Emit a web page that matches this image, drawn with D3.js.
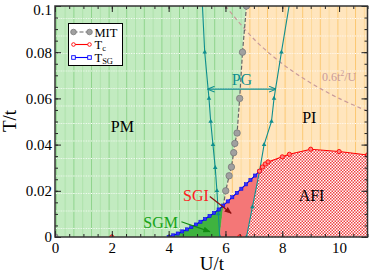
<!DOCTYPE html>
<html>
<head>
<meta charset="utf-8">
<script src="https://cdn.jsdelivr.net/npm/d3@7"></script>
<style>
body { margin: 0; background: #fff; }
svg text { font-family: "Liberation Serif", "Times New Roman", serif; }
</style>
</head>
<body>
<div id="chart"></div>
<script>
// Phase diagram, values (U/t , T/t)
var mitU = [6.74, 6.60, 6.50, 6.41, 6.33, 6.29, 6.21, 6.13, 6.01];
var mitT = [0.1, 0.08, 0.06, 0.045, 0.0405, 0.0365, 0.0303, 0.0265, 0.02];

var tcU = [7.2, 7.3, 7.4, 7.5, 8.0, 8.25, 9.0, 10.0, 11.0];
var tcT = [0.0285, 0.0303, 0.0316, 0.0325, 0.0347, 0.0358, 0.038, 0.037, 0.0355];

var tsgU = [4.0, 4.16, 4.32, 4.48, 4.64, 4.8, 4.96, 5.12, 5.28, 5.44, 5.6, 5.76, 5.92,
            6.08, 6.24, 6.4, 6.56, 6.72, 6.88, 7.04, 7.2];
var tsgT = [0, 0.0007, 0.0015, 0.0024, 0.0033, 0.0043, 0.0054, 0.0066, 0.0078, 0.0091, 0.0104,
            0.0119, 0.0136, 0.0154, 0.0172, 0.0191, 0.0209, 0.0228, 0.0247, 0.0266, 0.0285];

// pseudogap crossover lines
var pgLeftU = [5.19, 5.27, 5.42, 5.48, 5.56, 5.64, 5.70, 5.75, 5.80];
var pgLeftT = [0.1, 0.08, 0.06, 0.05, 0.04, 0.03, 0.02, 0.01, 0];
var pgRightU = [8.24, 7.97, 7.71, 7.62, 7.36, 7.2, 6.95, 6.74];
var pgRightT = [0.1, 0.08, 0.06, 0.05, 0.04, 0.0285, 0.013, 0];

// 0.6t^2/U dashed curve
var jU = [6.0, 7.0, 8.0, 9.0, 10.0, 11.0];
var jT = [0.1, 0.0857, 0.075, 0.0667, 0.06, 0.0545];

// SGM / SGI boundary and the triple point
var sgBoundU = [5.8, 5.93];
var sgBoundT = [0, 0.0137];

// single points sitting on the U axis
var extraMitU = [0];
var extraTcU = [2, 6.5];

var xTicks = [0, 2, 4, 6, 8, 10];
var yTicks = [0, 0.02, 0.04, 0.06, 0.08, 0.1];

var W = 371, H = 273;
var svg = d3.select("#chart").append("svg")
    .attr("width", W)
    .attr("height", H);

var x = d3.scaleLinear().domain([0, 11]).range([55, 367.5]);
var y = d3.scaleLinear().domain([0, 0.1]).range([237, 6]);

function pts(U, T) {
    return U.map(function(u, i){ return [u, T[i]]; });
}

var mit = pts(mitU, mitT);
var tc = pts(tcU, tcT);
var tsg = pts(tsgU, tsgT);
var pgL = pts(pgLeftU, pgLeftT);
var pgR = pts(pgRightU, pgRightT);
var sgb = pts(sgBoundU, sgBoundT);
var triple = sgb[1];

var tsgLow = tsg.filter(function(p){ return p[0] < triple[0]; });
var tsgHigh = tsg.filter(function(p){ return p[0] > triple[0]; });
var pgRLow = pgR.filter(function(p){ return p[1] <= tcT[0]; });

var line = d3.line()
    .x(function(d){ return x(d[0]); })
    .y(function(d){ return y(d[1]); });

// patterns
var defs = svg.append("defs");

function stripes(id, bg, strong, weak) {
    var p = defs.append("pattern")
        .attr("id", id)
        .attr("patternUnits", "userSpaceOnUse")
        .attr("x", 3).attr("y", 0.5)
        .attr("width", 17.6).attr("height", 17.5);
    p.append("rect").attr("width", 17.6).attr("height", 17.5).attr("fill", bg);
    p.append("line").attr("x1", 0.5).attr("x2", 0.5).attr("y1", 0).attr("y2", 17.5)
        .attr("stroke", strong).attr("stroke-width", 1);
    p.append("line").attr("x1", 9.3).attr("x2", 9.3).attr("y1", 0).attr("y2", 17.5)
        .attr("stroke", weak).attr("stroke-width", 1);
    p.append("line").attr("x1", 0).attr("x2", 17.6).attr("y1", 0.5).attr("y2", 0.5)
        .attr("stroke", "#fff").attr("stroke-width", 1).attr("stroke-dasharray", "1,1.5");
}
stripes("pmFill", "#c2ebc0", "#8fd48c", "#aee2ab");
stripes("piFill", "#ffe5bd", "#fcc872", "#fdd99a");

var chk = defs.append("pattern")
    .attr("id", "afiFill")
    .attr("patternUnits", "userSpaceOnUse")
    .attr("width", 3).attr("height", 3);
chk.append("rect").attr("width", 3).attr("height", 3).attr("fill", "#fff");
chk.append("rect").attr("width", 1.5).attr("height", 1.5).attr("fill", "#f04040");
chk.append("rect").attr("x", 1.5).attr("y", 1.5).attr("width", 1.5).attr("height", 1.5).attr("fill", "#f04040");

defs.append("clipPath").attr("id", "plotClip")
    .append("rect")
    .attr("x", x(0)).attr("y", y(0.1))
    .attr("width", x(11) - x(0)).attr("height", y(0) - y(0.1));

var plot = svg.append("g").attr("clip-path", "url(#plotClip)");

// regions
var pm = [[0, 0], [0, 0.1]].concat(mit, [triple], tsgLow.slice().reverse());
var pi = [[mitU[0], 0.1], [11, 0.1]].concat(tc.slice().reverse(), tsgHigh.slice().reverse(), [triple], mit.slice().reverse());
var sgm = tsgLow.concat([triple], [sgb[0]]);
var sgi = [sgb[0], triple].concat(tsgHigh, pgRLow.slice(1));
var afi = pgRLow.slice().reverse().concat(tc.slice(1), [[11, 0]]);

plot.append("path").attr("d", line(pm) + "Z").attr("fill", "url(#pmFill)");
plot.append("path").attr("d", line(pi) + "Z").attr("fill", "url(#piFill)");
plot.append("path").attr("d", line(sgm) + "Z").attr("fill", "#3fb33f").attr("stroke", "#3fb33f").attr("stroke-width", 0.5);
plot.append("path").attr("d", line(sgi) + "Z").attr("fill", "#f47777").attr("stroke", "#f47777").attr("stroke-width", 0.5);
plot.append("path").attr("d", line(afi) + "Z").attr("fill", "url(#afiFill)");

// 0.6t^2/U
plot.append("path")
    .attr("d", line.curve(d3.curveCatmullRom)(pts(jU, jT)))
    .attr("fill", "none")
    .attr("stroke", "#c99a9a")
    .attr("stroke-width", 1.2)
    .attr("stroke-dasharray", "4,3");
line.curve(d3.curveLinear);

// pseudogap lines
var teal = "#0e8e8e";
[pgL, pgR].forEach(function(d){
    plot.append("path").attr("d", line(d))
        .attr("fill", "none").attr("stroke", teal).attr("stroke-width", 1.1);
    plot.selectAll(null).data(d.filter(function(p){ return p[1] < 0.1; }))
        .enter().append("path")
        .attr("d", d3.symbol().type(d3.symbolTriangle).size(9))
        .attr("transform", function(p){ return "translate(" + x(p[0]) + "," + y(p[1]) + ")"; })
        .attr("fill", teal);
});

// MIT
plot.append("path").attr("d", line(mit.concat([triple])))
    .attr("fill", "none").attr("stroke", "#666").attr("stroke-width", 1.2)
    .attr("stroke-dasharray", "4,2");
plot.selectAll(".mitpt").data(mit.concat(extraMitU.map(function(u){ return [u, 0]; })))
    .enter().append("circle")
    .attr("class", "mitpt")
    .attr("cx", function(d){ return x(d[0]); })
    .attr("cy", function(d){ return y(d[1]); })
    .attr("r", 3.2)
    .attr("fill", "#a0a0a0").attr("stroke", "#7a7a7a").attr("stroke-width", 0.8);

// T_SG
plot.append("path").attr("d", line(tsg))
    .attr("fill", "none").attr("stroke", "#0000ff").attr("stroke-width", 1.1);
plot.selectAll(".sgpt").data(tsg)
    .enter().append("rect")
    .attr("class", "sgpt")
    .attr("x", function(d){ return x(d[0]) - 1.6; })
    .attr("y", function(d){ return y(d[1]) - 1.6; })
    .attr("width", 3.2).attr("height", 3.2)
    .attr("fill", "#3030ff").attr("stroke", "#0000e0").attr("stroke-width", 0.5);

// T_c
plot.append("path").attr("d", line(tc))
    .attr("fill", "none").attr("stroke", "#ff0000").attr("stroke-width", 1.1);
plot.selectAll(".tcpt").data(tc.concat(extraTcU.map(function(u){ return [u, 0]; })))
    .enter().append("circle")
    .attr("class", "tcpt")
    .attr("cx", function(d){ return x(d[0]); })
    .attr("cy", function(d){ return y(d[1]); })
    .attr("r", 2.1)
    .attr("fill", "#ff8080").attr("stroke", "#ff0000").attr("stroke-width", 0.9);

// PG arrow
var pgArrowT = 0.064;
defs.append("marker").attr("id", "tealHead")
    .attr("viewBox", "0 0 10 10").attr("refX", 9).attr("refY", 5)
    .attr("markerWidth", 6).attr("markerHeight", 6).attr("orient", "auto-start-reverse")
    .append("path").attr("d", "M0,1L10,5L0,9").attr("fill", "none").attr("stroke", teal).attr("stroke-width", 1.5);
svg.append("line")
    .attr("x1", x(5.39)).attr("x2", x(7.76))
    .attr("y1", y(pgArrowT)).attr("y2", y(pgArrowT))
    .attr("stroke", teal).attr("stroke-width", 1.2)
    .attr("marker-start", "url(#tealHead)").attr("marker-end", "url(#tealHead)");

// annotation arrows
function arrowHead(id, color) {
    defs.append("marker").attr("id", id)
        .attr("viewBox", "0 0 10 10").attr("refX", 9).attr("refY", 5)
        .attr("markerWidth", 6).attr("markerHeight", 6).attr("orient", "auto")
        .append("path").attr("d", "M0,1L10,5L0,9Z").attr("fill", color);
}
arrowHead("redHead", "#8b1010");
arrowHead("greenHead", "#118a11");
svg.append("line")
    .attr("x1", x(5.45)).attr("y1", y(0.0175)).attr("x2", x(6.2)).attr("y2", y(0.0103))
    .attr("stroke", "#8b1010").attr("stroke-width", 1.2).attr("marker-end", "url(#redHead)");
svg.append("line")
    .attr("x1", x(4.45)).attr("y1", y(0.0066)).attr("x2", x(5.45)).attr("y2", y(0.0023))
    .attr("stroke", "#118a11").attr("stroke-width", 1.2).attr("marker-end", "url(#greenHead)");

// region labels
function label(txt, u, t, color, size) {
    svg.append("text")
        .attr("x", x(u)).attr("y", y(t))
        .attr("text-anchor", "middle")
        .attr("font-size", size)
        .attr("fill", color)
        .text(txt);
}
label("PM", 2.37, 0.0455, "#000", 16);
label("PI", 8.95, 0.0493, "#000", 16);
label("AFI", 9.03, 0.0156, "#000", 16);
label("SGI", 4.96, 0.0156, "#ff2020", 16);
label("SGM", 3.72, 0.0039, "#17a317", 16);
label("PG", 6.58, 0.0658, teal, 16);

var jl = svg.append("text")
    .attr("x", x(10.0)).attr("y", y(0.0675))
    .attr("text-anchor", "middle")
    .attr("font-size", 12)
    .attr("fill", "#c99a9a");
jl.append("tspan").text("0.6t");
jl.append("tspan").attr("font-size", 8).attr("dy", -5).text("2");
jl.append("tspan").attr("dy", 5).text("/U");

// axes, ticks pointing inward
var ax = svg.append("g");
function styleAxis(g) {
    g.select(".domain").remove();
    g.selectAll("line").attr("stroke", "#222").attr("stroke-width", 1);
    g.selectAll("text").attr("font-size", 15).attr("fill", "#000")
        .attr("font-family", "'Liberation Serif','Times New Roman',serif");
}
var fmtY = function(d){ return d === 0 ? "0" : String(+d.toFixed(2)); };

ax.append("g").attr("transform", "translate(0," + y(0) + ")")
    .call(d3.axisBottom(x).tickValues(xTicks).tickSizeInner(-6).tickSizeOuter(0).tickPadding(5))
    .call(styleAxis);
ax.append("g").attr("transform", "translate(0," + y(0) + ")")
    .call(d3.axisBottom(x).tickValues(d3.range(0, 11.01, 0.5)).tickSize(-3).tickFormat(""))
    .call(styleAxis);
ax.append("g").attr("transform", "translate(0," + y(0.1) + ")")
    .call(d3.axisTop(x).tickValues(xTicks).tickSize(-6).tickFormat(""))
    .call(styleAxis);
ax.append("g").attr("transform", "translate(0," + y(0.1) + ")")
    .call(d3.axisTop(x).tickValues(d3.range(0, 11.01, 0.5)).tickSize(-3).tickFormat(""))
    .call(styleAxis);

var yAx = ax.append("g").attr("transform", "translate(" + x(0) + ",0)")
    .call(d3.axisLeft(y).tickValues(yTicks).tickSizeInner(-6).tickSizeOuter(0).tickPadding(3).tickFormat(fmtY))
    .call(styleAxis);
// top label sits a little lower, as in the original
yAx.selectAll(".tick text").filter(function(d){ return d === 0.1; }).attr("dy", "0.55em");
ax.append("g").attr("transform", "translate(" + x(0) + ",0)")
    .call(d3.axisLeft(y).tickValues(d3.range(0, 0.1001, 0.005)).tickSize(-3).tickFormat(""))
    .call(styleAxis);
ax.append("g").attr("transform", "translate(" + x(11) + ",0)")
    .call(d3.axisRight(y).tickValues(yTicks).tickSize(-6).tickFormat(""))
    .call(styleAxis);
ax.append("g").attr("transform", "translate(" + x(11) + ",0)")
    .call(d3.axisRight(y).tickValues(d3.range(0, 0.1001, 0.005)).tickSize(-3).tickFormat(""))
    .call(styleAxis);

svg.append("rect")
    .attr("x", x(0)).attr("y", y(0.1))
    .attr("width", x(11) - x(0)).attr("height", y(0) - y(0.1))
    .attr("fill", "none").attr("stroke", "#333").attr("stroke-width", 1.5);

// axis titles
svg.append("text")
    .attr("x", 212).attr("y", 270)
    .attr("text-anchor", "middle").attr("font-size", 19)
    .text("U/t");
svg.append("text")
    .attr("transform", "translate(16,121) rotate(-90)")
    .attr("text-anchor", "middle").attr("font-size", 19)
    .text("T/t");

// legend
var lg = svg.append("g").attr("transform", "translate(68.5,23.5)");
lg.append("rect").attr("width", 54).attr("height", 42)
    .attr("fill", "#fff").attr("stroke", "#000").attr("stroke-width", 1);
var rows = [
    { name: "MIT", sub: "", y: 8.5, stroke: "#666", dash: "4,2", kind: "circle" },
    { name: "T", sub: "c", y: 21, stroke: "#ff0000", dash: null, kind: "tc" },
    { name: "T", sub: "SG", y: 34, stroke: "#0000ff", dash: null, kind: "sq" }
];
rows.forEach(function(r){
    lg.append("line").attr("x1", 5).attr("x2", 21).attr("y1", r.y).attr("y2", r.y)
        .attr("stroke", r.stroke).attr("stroke-width", 1.1)
        .attr("stroke-dasharray", r.dash);
    [5, 21].forEach(function(px){
        if (r.kind === "circle") {
            lg.append("circle").attr("cx", px).attr("cy", r.y).attr("r", 2.8)
                .attr("fill", "#a0a0a0").attr("stroke", "#7a7a7a").attr("stroke-width", 0.8);
        } else if (r.kind === "tc") {
            lg.append("circle").attr("cx", px).attr("cy", r.y).attr("r", 1.8)
                .attr("fill", "#fff").attr("stroke", "#ff0000").attr("stroke-width", 0.9);
        } else {
            lg.append("rect").attr("x", px - 1.8).attr("y", r.y - 1.8).attr("width", 3.6).attr("height", 3.6)
                .attr("fill", "#fff").attr("stroke", "#0000ff").attr("stroke-width", 0.9);
        }
    });
    var t = lg.append("text").attr("x", 26).attr("y", r.y + 4.5).attr("font-size", 12.5).text(r.name);
    if (r.sub) t.append("tspan").attr("font-size", 8.5).attr("dy", 1.5).text(r.sub);
});
</script>
</body>
</html>
